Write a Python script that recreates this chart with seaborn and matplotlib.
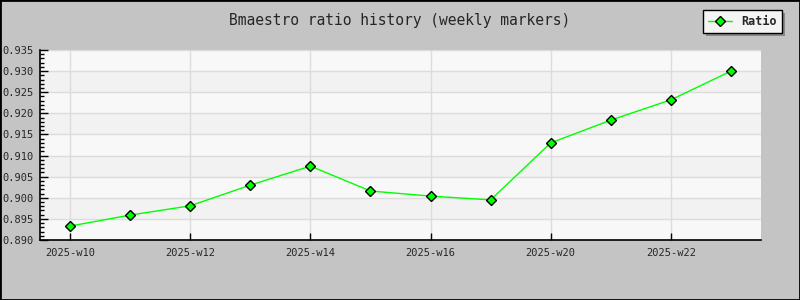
import matplotlib
matplotlib.use("Agg")
import matplotlib.pyplot as plt
import seaborn as sns
import pandas as pd
import numpy as np
from matplotlib.ticker import MultipleLocator, FixedLocator
from matplotlib.patches import Rectangle

weeks = ["2025-w10", "2025-w11", "2025-w12", "2025-w13", "2025-w14", "2025-w15",
         "2025-w16", "2025-w17", "2025-w20", "2025-w21", "2025-w22", "2025-w23"]
ratio = [0.8933, 0.8959, 0.8981, 0.9030, 0.9075, 0.9016,
         0.9004, 0.8995, 0.9130, 0.9184, 0.9232, 0.9300]
series_name = "Ratio"
title = "Bmaestro ratio history (weekly markers)"

sns.set_theme(style="white")
mono = ["DejaVu Sans Mono", "Liberation Mono"]
plt.rcParams["font.family"] = mono

df = pd.DataFrame({"idx": np.arange(len(weeks)), "week": weeks, "ratio": ratio})

fig = plt.figure(figsize=(8, 3), dpi=100, facecolor="#c4c4c4")
ax = fig.add_axes([0.05, 0.2, 0.9013, 0.6333])
ax.set_facecolor("#f2f2f2")

ymin, ymax = 0.890, 0.935
# alternating bands
for i, lo in enumerate(np.arange(ymin, ymax - 1e-9, 0.005)):
    if i % 2 == 0:
        ax.axhspan(lo, lo + 0.005, color="#f8f8f8", zorder=0, lw=0)

sns.lineplot(data=df, x="idx", y="ratio", ax=ax, color="#00ff00", lw=1,
             marker="D", markersize=5, markerfacecolor="#00ff00",
             markeredgecolor="black", markeredgewidth=1, label=series_name,
             legend=False, zorder=3)

ax.set_xlim(-0.5, len(weeks) - 0.5)
ax.set_ylim(ymin, ymax)
ax.xaxis.set_major_locator(FixedLocator(df["idx"][::2]))
ax.set_xticklabels(df["week"][::2])
ax.yaxis.set_major_locator(MultipleLocator(0.005))
ax.yaxis.set_minor_locator(MultipleLocator(0.001))
ax.yaxis.set_major_formatter(matplotlib.ticker.FormatStrFormatter("%.3f"))
ax.grid(True, which="major", color="#dcdcdc", lw=1, zorder=1)
ax.set_axisbelow(True)
ax.set_xlabel("")
ax.set_ylabel("")

for s in ["top", "right"]:
    ax.spines[s].set_visible(False)
for s in ["left", "bottom"]:
    ax.spines[s].set_color("black")
    ax.spines[s].set_linewidth(1.2)

ax.tick_params(axis="y", which="major", direction="in", length=6, width=1,
               color="black", labelsize=7.5, pad=4.5, left=True)
ax.tick_params(axis="y", which="minor", direction="in", length=3, width=1,
               color="black", left=True)
ax.tick_params(axis="x", which="major", direction="in", length=5, width=1,
               color="black", labelsize=7.5, pad=6, bottom=True)

fig.text(0.5, 1 - 20 / 300, title, ha="center", va="center", fontsize=10.5,
         family=mono)

handles, labels = ax.get_legend_handles_labels()
leg = fig.legend(handles, labels, loc="upper right", bbox_to_anchor=(0.981, 0.975),
                 frameon=True, fancybox=False, shadow=False,
                 prop={"family": mono, "weight": "bold", "size": 8.5},
                 handlelength=2.0, borderpad=0.45, handletextpad=0.8,
                 borderaxespad=0.2)
leg.get_frame().set_facecolor("#f4f4f4")
leg.get_frame().set_edgecolor("black")
leg.get_frame().set_linewidth(1)
leg.get_frame().set_alpha(1)

# legend shadow
fig.canvas.draw()
bb = leg.get_window_extent().transformed(fig.transFigure.inverted())
fig.patches.append(Rectangle((bb.x0 + 3 / 800, bb.y0 - 3 / 300), bb.width, bb.height,
                             transform=fig.transFigure, facecolor="#888888",
                             edgecolor="none", zorder=leg.get_zorder() - 1))

# figure border
fig.patches.append(Rectangle((0, 0), 1, 1, transform=fig.transFigure, fill=False,
                             edgecolor="black", lw=2, zorder=10))

fig.savefig("out.png", dpi=100, facecolor=fig.get_facecolor())
